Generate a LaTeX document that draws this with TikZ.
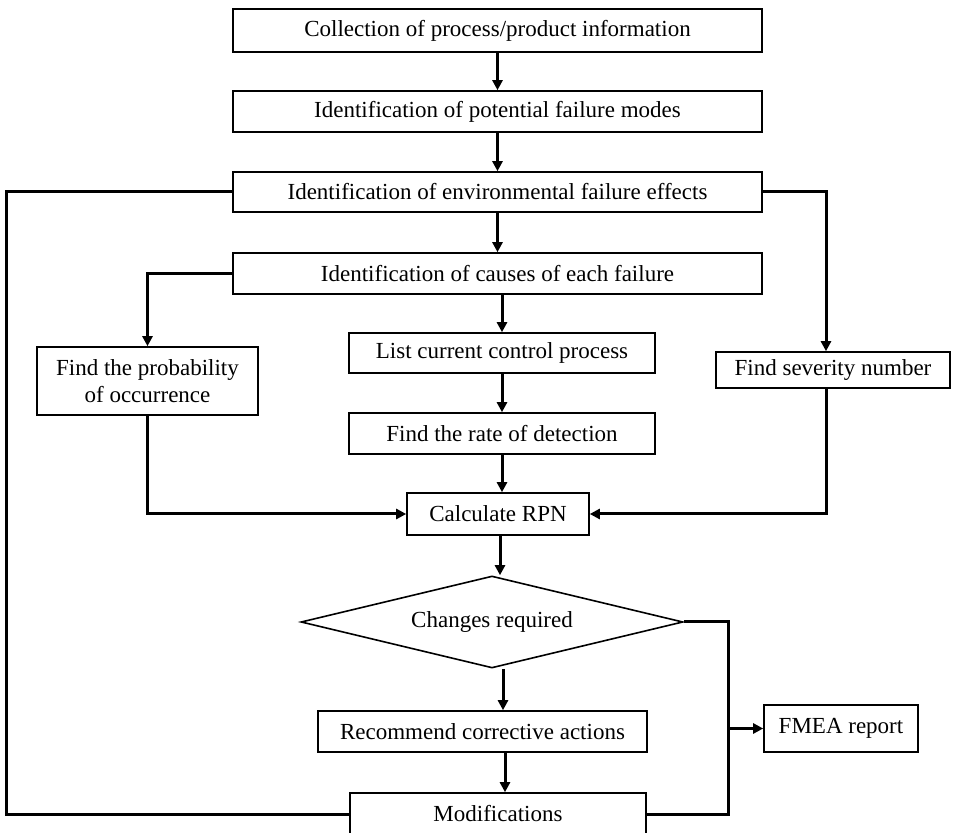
\documentclass[tikz,border=0pt]{standalone}
\usepackage{fontspec}
\setmainfont{Liberation Serif}
\usepackage{tikz}
\usetikzlibrary{shapes, arrows.meta, positioning, calc}

\begin{document}
\begin{tikzpicture}[x=0.5pt, y=-0.5pt,
    font=\fontsize{11.5}{13.5}\selectfont,
    stepbox/.style={draw, line width=0.8pt, inner sep=0pt, align=center},
    decision/.style={draw, line width=0.8pt, diamond, aspect=4.15, inner sep=0pt, minimum width=191pt, minimum height=46pt},
    flow/.style={line width=1.5pt},
    arr/.style={flow, -{Triangle[length=5pt, width=5pt]}}]
  \useasboundingbox (0, 0) rectangle (953, 833);

  % Main column
  \node[stepbox, minimum width=264.5pt, minimum height=21.5pt] (collect) at (497.5, 30.5) {Collection of process/product information};
  \node[stepbox, minimum width=264.5pt, minimum height=20.5pt] (modes) at (497.5, 111.5) {Identification of potential failure modes};
  \node[stepbox, minimum width=264.5pt, minimum height=20pt] (effects) at (497.5, 192) {Identification of environmental failure effects};
  \node[stepbox, minimum width=264.5pt, minimum height=20.5pt] (causes) at (497.5, 273.5) {Identification of causes of each failure};

  % Three branches
  \node[stepbox, minimum width=110.5pt, minimum height=34pt] (prob) at (147.5, 381) {Find the probability\\of occurrence};
  \node[stepbox, minimum width=153pt, minimum height=20pt] (control) at (502, 353) {List current control process};
  \node[stepbox, minimum width=153pt, minimum height=20.5pt] (detect) at (502, 433.5) {Find the rate of detection};
  \node[stepbox, minimum width=117pt, minimum height=18pt] (severity) at (833, 370) {Find severity number};

  % Evaluation
  \node[stepbox, minimum width=91pt, minimum height=21pt] (rpn) at (498, 514) {Calculate RPN};
  \node[decision] (changes) at (492, 622) {Changes required};
  \node[stepbox, minimum width=164.5pt, minimum height=20.5pt] (actions) at (482.5, 731.5) {Recommend corrective actions};
  \node[stepbox, minimum width=77pt, minimum height=23.5pt] (report) at (841, 728.5) {FMEA report};
  \node[stepbox, minimum width=148pt, minimum height=21pt] (modif) at (498, 814) {Modifications};

  \coordinate (turn) at (728, 814);
  \coordinate (back) at (6, 814);

  % Connectors
  \draw[arr] (collect) -- (modes);
  \draw[arr] (modes) -- (effects);
  \draw[arr] (effects) -- (causes);
  \draw[arr] (causes.south -| control.north) -- (control.north);
  \draw[arr] (control) -- (detect);
  \draw[arr] (detect.south) -- (detect.south |- rpn.north);
  \draw[arr] (causes.west) -| (prob.north);
  \draw[arr] (effects.east) -| ([xshift=-3.5pt]severity.north);
  \draw[arr] (prob.south) |- (rpn.west);
  \draw[arr] ([xshift=-3.5pt]severity.south) |- (rpn.east);
  \draw[arr] (rpn.south -| 500, 0) -- (changes.north -| 500, 0);
  \draw[arr] (changes.south -| 503, 0) -- (actions.north -| 503, 0);
  \draw[arr] (actions.south -| 505, 0) -- (modif.north -| 505, 0);

  % Outputs and loop back
  \draw[flow] (changes.east) -| (turn) -- (modif.east);
  \draw[arr] (turn |- report.west) -- (report.west);
  \draw[flow] (modif.west) -- (back) |- (effects.west);
\end{tikzpicture}
\end{document}
